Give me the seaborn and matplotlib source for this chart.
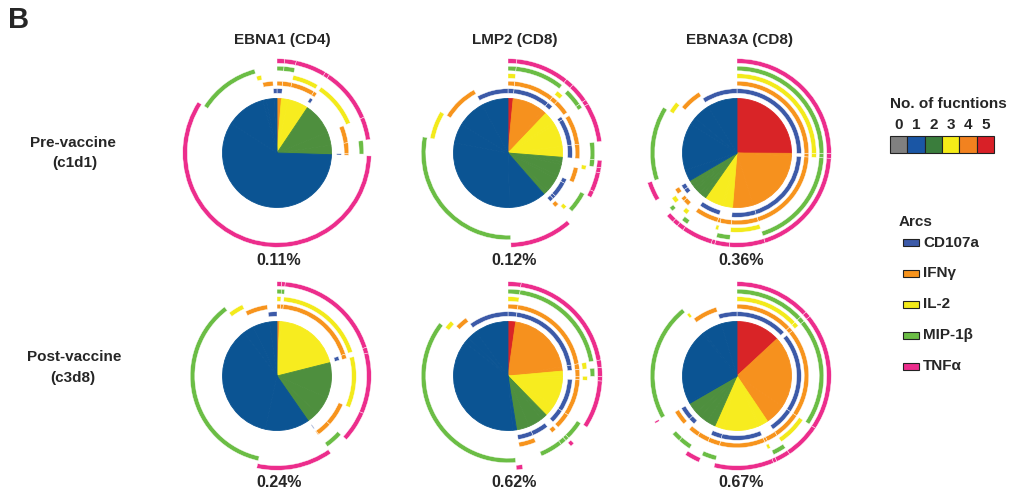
import numpy as np
import matplotlib.pyplot as plt
import seaborn as sns
from matplotlib.patches import Wedge, Rectangle

sns.set_style("white")
plt.rcParams['font.family'] = ['Liberation Sans', 'DejaVu Sans']

# markers in ring order (inner -> outer); subset codes use the same order (CD107a, IFNg, IL-2, MIP-1b, TNFa)
markers = ['CD107a', 'IFNγ', 'IL-2', 'MIP-1β', 'TNFα']
arc_colors = ['#3c5aa8', '#f7941d', '#f3ea1b', '#6bbd45', '#ec2d8c']
func_colors = ['#808080', '#0b5493', '#4e8f3e', '#f7ec1f', '#f6911e', '#d92427']
legend_func_colors = ['#808080', '#1a56a5', '#3a7d3c', '#f5ec18', '#f2821f', '#d82027']

antigens = ['EBNA1 (CD4)', 'LMP2 (CD8)', 'EBNA3A (CD8)']

# % of responding cells in each marker combination
ebna1_pre_sets = ['11011', '01011', '01101', '11001', '00101', '01001', '01010', '11000',
                  '00001', '00010', '00100', '01000', '10000']
ebna1_pre_pct = [1.3, 2.0, 5.3, 0.8, 9.4, 3.9, 2.5, 0.3, 58.6, 11.7, 1.0, 2.3, 0.9]

lmp2_pre_sets = ['11111', '11011', '11101', '01011', '10011', '11001', '11010', '00011', '00101',
                 '01001', '10001', '10010', '10100', '11000', '00001', '00010', '00100', '01000', '10000']
lmp2_pre_pct = [1.5, 9.1, 1.4, 3.3, 0.8, 6.7, 3.2, 1.25, 0.85, 3.3, 1.1, 3.9, 0.8, 1.0,
                10.8, 28.2, 5.7, 8.3, 7.8]

ebna3a_pre_sets = ['11111', '01111', '11011', '11101', '01011', '01101', '11001', '00011', '00101',
                   '01001', '01010', '10100', '11000', '00001', '00010', '00100', '01000', '10000']
ebna3a_pre_pct = [25.0, 0.8, 19.2, 6.1, 2.5, 0.6, 5.3, 1.2, 1.0, 1.4, 0.8, 1.2, 1.2,
                  3.3, 13.9, 2.2, 5.0, 8.9]

ebna1_post_sets = ['01111', '01011', '01101', '11001', '00101', '01001', '01010', '11000',
                   '00001', '00010', '00100', '01000', '10000']
ebna1_post_pct = [0.8, 0.6, 18.6, 1.0, 10.4, 5.3, 3.3, 0.2, 13.1, 36.1, 3.1, 5.0, 2.2]

lmp2_post_sets = ['11111', '11011', '11101', '01011', '01101', '11001', '11010', '00011', '01010',
                  '10010', '11000', '00001', '00010', '00100', '01000', '10000']
lmp2_post_pct = [2.25, 20.0, 1.3, 1.5, 0.8, 8.3, 3.5, 0.7, 1.1, 4.2, 3.8, 1.1, 36.9, 1.7, 2.8, 10.0]

ebna3a_post_sets = ['11111', '01111', '11011', '11101', '01011', '01101', '11001', '11010', '01001',
                    '01010', '10010', '11000', '00001', '00010', '00100', '01000', '10000']
ebna3a_post_pct = [13.1, 1.0, 20.3, 6.2, 2.5, 0.6, 10.3, 2.7, 2.6, 2.4, 1.7, 3.3,
                   0.3, 22.2, 0.6, 5.6, 4.7]

freq_labels = [['0.11%', '0.12%', '0.36%'], ['0.24%', '0.62%', '0.67%']]

panels = [[(ebna1_pre_sets, ebna1_pre_pct), (lmp2_pre_sets, lmp2_pre_pct), (ebna3a_pre_sets, ebna3a_pre_pct)],
          [(ebna1_post_sets, ebna1_post_pct), (lmp2_post_sets, lmp2_post_pct), (ebna3a_post_sets, ebna3a_post_pct)]]

W, H = 1012, 498
R_PIE = 54.5
ring_r = [62, 69.5, 77, 84.5, 92]
ARC_W = 4.6
col_x = [277, 508, 737]
row_y = [153, 376]


def px(x, y):
    return x / W, 1 - y / H


def spice(ax, sets, pct):
    order = sorted(range(len(sets)), key=lambda i: (-sets[i].count('1'), int(sets[i], 2)))
    sets = [sets[i] for i in order]
    pct = np.array([pct[i] for i in order])
    nfun = [s.count('1') for s in sets]
    wedges, _ = ax.pie(pct, colors=[func_colors[n] for n in nfun], radius=R_PIE, startangle=90,
                       counterclock=False)
    for w in wedges:
        w.set_edgecolor(w.get_facecolor())
        w.set_linewidth(0.6)
    edges = np.concatenate([[0], np.cumsum(pct)]) / pct.sum() * 360
    for k in range(5):
        for i, s in enumerate(sets):
            if s[k] == '1':
                ax.add_patch(Wedge((0, 0), ring_r[k] + ARC_W / 2, 90 - edges[i + 1], 90 - edges[i],
                                   width=ARC_W, facecolor=arc_colors[k], edgecolor='white', linewidth=0.3))
    ax.set_xlim(-100, 100)
    ax.set_ylim(-100, 100)
    ax.axis('off')


fig = plt.figure(figsize=(W / 100, H / 100), dpi=100)

for r in range(2):
    for c in range(3):
        cx, cy = col_x[c], row_y[r]
        ax = fig.add_axes([(cx - 100) / W, 1 - (cy + 100) / H, 200 / W, 200 / H])
        spice(ax, *panels[r][c])
        lx = [279, 514, 741][c]
        ly = [260, 482][r]
        fig.text(*px(lx, ly), freq_labels[r][c], ha='center', va='center', fontsize=11.5, fontweight='bold')

for c, name in enumerate(antigens):
    fig.text(*px([282, 515, 740][c], 40), name, ha='center', va='center', fontsize=11, fontweight='bold')

fig.text(*px(8, 20), 'B', ha='left', va='center', fontsize=21, fontweight='bold')
fig.text(*px(30, 143), 'Pre-vaccine', ha='left', va='center', fontsize=11, fontweight='bold')
fig.text(*px(52, 163), '(c1d1)', ha='left', va='center', fontsize=11, fontweight='bold')
fig.text(*px(27, 357), 'Post-vaccine', ha='left', va='center', fontsize=11, fontweight='bold')
fig.text(*px(50, 378), '(c3d8)', ha='left', va='center', fontsize=11, fontweight='bold')

# legend: number of functions
fig.text(*px(890, 104), 'No. of fucntions', ha='left', va='center', fontsize=11, fontweight='bold')
box_w = 104 / 6
for n in range(6):
    x0 = 890 + n * box_w
    fig.text(*px(x0 + box_w / 2, 125), str(n), ha='center', va='center', fontsize=11, fontweight='bold')
    fig.patches.append(Rectangle(px(x0, 152.5), box_w / W, 17 / H, transform=fig.transFigure,
                                 facecolor=legend_func_colors[n], edgecolor='#222222', linewidth=0.8))

# legend: arcs
fig.text(*px(899, 222), 'Arcs', ha='left', va='center', fontsize=11, fontweight='bold')
arc_y = [243, 273, 304, 335, 366]
for k, m in enumerate(markers):
    fig.patches.append(Rectangle(px(903, arc_y[k] + 3.5), 16 / W, 7 / H, transform=fig.transFigure,
                                 facecolor=arc_colors[k], edgecolor='#222222', linewidth=0.8))
    fig.text(*px(923, arc_y[k]), m, ha='left', va='center', fontsize=11, fontweight='bold')

plt.savefig('out.png', dpi=100)
plt.close()
